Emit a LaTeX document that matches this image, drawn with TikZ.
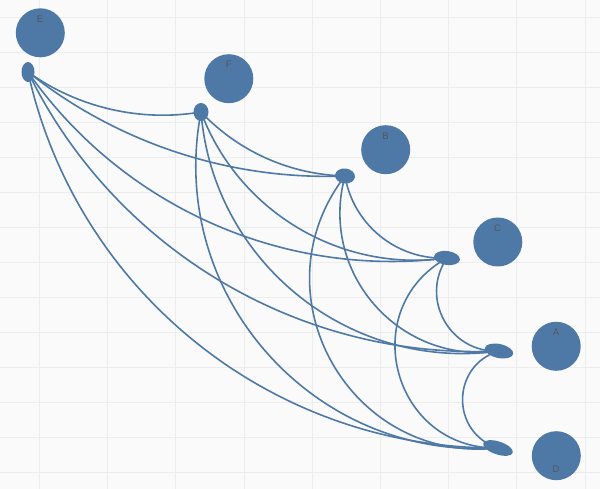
\documentclass[tikz,border=0pt]{standalone}
\usepackage{fontspec}
\setsansfont{Liberation Sans}
\usetikzlibrary{shapes.geometric}

\definecolor{tabblue}{HTML}{4E79A7}
\definecolor{paper}{HTML}{FAFAFA}
\definecolor{gridline}{HTML}{EDEDED}
\definecolor{tagtext}{HTML}{50555C}

\tikzset{
    bubble/.style={circle, fill=tabblue, minimum size=49pt, inner sep=0pt},
    port/.style={ellipse, fill=tabblue, inner sep=0pt},
    tag/.style={font=\sffamily\fontsize{9.5}{11}\selectfont, text=tagtext, inner sep=0pt},
    link/.style={draw=tabblue, line width=1.6pt},
    sweep/.style 2 args={bend right=#1, looseness=#2}
}

\begin{document}
\begin{tikzpicture}[x=1pt, y=1pt]

% ===== Canvas and grid =====
\fill[paper] (0,0) rectangle (600,-489);
\useasboundingbox (0,0) rectangle (600,-489);
\foreach \gx in {0,...,8}
    \draw[gridline, line width=0.8pt] ({39.4+68.2*\gx},0) -- ({39.4+68.2*\gx},-489);
\foreach \gy in {0,...,13}
    \draw[gridline, line width=0.8pt] (0,{-17.3-35*\gy}) -- (600,{-17.3-35*\gy});

% ===== Bubbles =====
\node[bubble] (nE) at (40.3,-32.8) {};
\node[bubble] (nF) at (228.8,-78.7) {};
\node[bubble] (nB) at (385.7,-149.7) {};
\node[bubble] (nC) at (497.8,-242) {};
\node[bubble] (nA) at (556.2,-346.3) {};
\node[bubble] (nD) at (556.3,-455.7) {};

\node[tag] at (40,-19.7) {E};
\node[tag] at (228.8,-64) {F};
\node[tag] at (385.5,-135.8) {B};
\node[tag] at (497.5,-228.3) {C};
\node[tag] at (556,-332) {A};
\node[tag] at (556,-468.8) {D};

% ===== Ports =====
\node[port, minimum width=13pt, minimum height=20pt] (pE) at (28,-72) {};
\node[port, minimum width=15pt, minimum height=18pt] (pF) at (201,-112) {};
\node[port, minimum width=20pt, minimum height=15pt, rotate=-6] (pB) at (345,-176) {};
\node[port, minimum width=26pt, minimum height=14pt, rotate=-8] (pC) at (447,-258) {};
\node[port, minimum width=29pt, minimum height=14pt, rotate=-12] (pA) at (499,-351) {};
\node[port, minimum width=31pt, minimum height=13pt, rotate=-18] (pD) at (498,-448) {};

% ===== Links =====
\foreach \src/\dst/\ang/\loose in {
    E/F/22.6/0.885, E/B/20.4/0.879, E/C/31.1/0.917, E/A/33.4/0.928, E/D/38.9/0.958,
    F/B/22.6/0.885, F/C/38.8/0.957, F/A/46.7/1.01, F/D/52.4/1.057,
    B/C/41.6/0.974, B/A/56.7/1.10, B/D/66.9/1.22,
    C/A/63.6/1.18, C/D/75.9/1.37,
    A/D/73/1.32}
    \draw[link] (p\src.center) to[sweep={\ang}{\loose}] (p\dst.center);

\end{tikzpicture}
\end{document}
